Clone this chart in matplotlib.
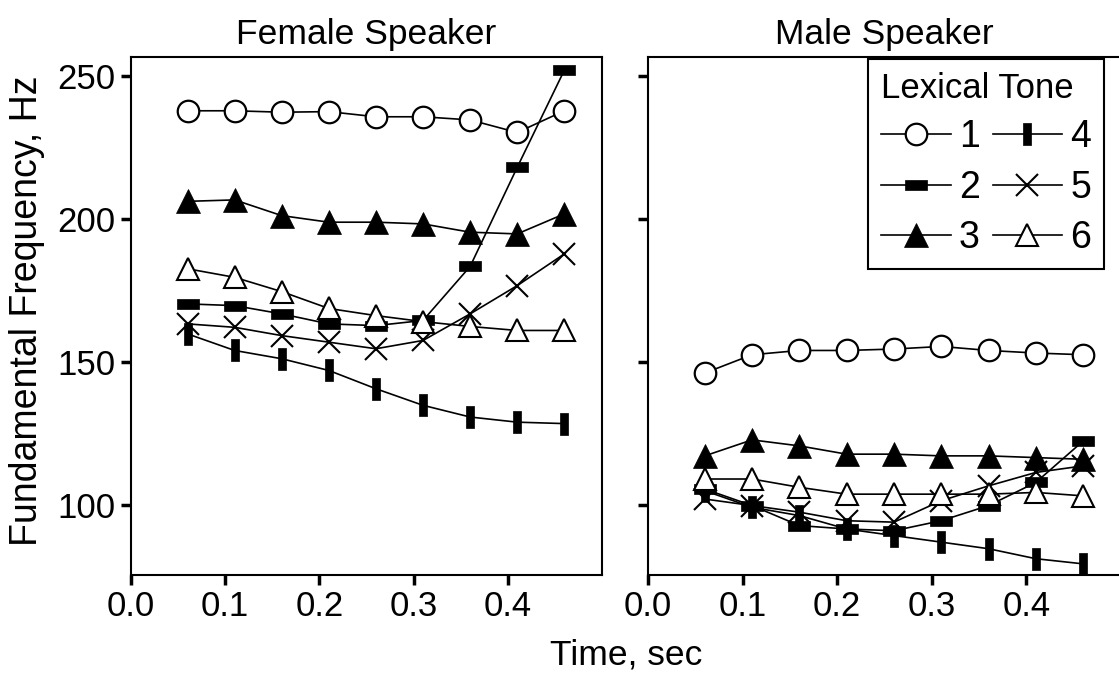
import matplotlib
matplotlib.use("Agg")
import matplotlib.pyplot as plt
from matplotlib.path import Path
from matplotlib.lines import Line2D

plt.rcParams['font.family'] = ['Liberation Sans', 'DejaVu Sans']

# data ---------------------------------------------------------------
time = [0.06, 0.11, 0.16, 0.21, 0.26, 0.31, 0.36, 0.41, 0.46]
tones = ["1", "2", "3", "4", "5", "6"]

female_t1 = [238.0, 238.0, 237.5, 237.7, 235.9, 235.9, 234.8, 230.4, 238.0]
female_t2 = [170.4, 169.8, 166.9, 163.4, 162.8, 164.6, 183.5, 218.2, 252.2]
female_t3 = [206.3, 206.8, 201.3, 199.0, 199.0, 198.4, 195.5, 194.9, 201.9]
female_t4 = [159.9, 154.1, 151.2, 147.1, 140.7, 134.9, 130.8, 129.0, 128.5]
female_t5 = [163.4, 162.2, 159.3, 157.0, 154.7, 157.6, 166.9, 176.8, 187.9]
female_t6 = [182.7, 179.7, 174.7, 168.8, 166.3, 164.2, 162.5, 161.1, 161.1]

male_t1 = [146.2, 152.6, 154.1, 154.1, 154.6, 155.5, 154.1, 153.2, 152.6]
male_t2 = [105.6, 99.8, 92.8, 91.6, 91.0, 94.5, 99.8, 107.9, 122.4]
male_t3 = [117.2, 122.8, 120.7, 117.8, 117.8, 117.2, 117.2, 116.6, 116.0]
male_t4 = [105.0, 99.2, 96.3, 91.6, 89.3, 87.0, 84.7, 81.2, 79.4]
male_t5 = [102.1, 99.8, 97.5, 94.5, 94.0, 101.5, 106.7, 111.4, 113.7]
male_t6 = [109.1, 109.1, 106.2, 103.8, 103.8, 103.8, 103.8, 104.4, 103.2]

yticks = [100, 150, 200, 250]
xticks = [0.0, 0.1, 0.2, 0.3, 0.4]

# marker styles --------------------------------------------------------
hbar = Path([(-1, -0.42), (1, -0.42), (1, 0.42), (-1, 0.42), (-1, -0.42)],
            [1, 2, 2, 2, 79])
vbar = Path([(-0.36, -1), (0.36, -1), (0.36, 1), (-0.36, 1), (-0.36, -1)],
            [1, 2, 2, 2, 79])
styles = [
    dict(marker='o', ms=15.5, mfc='white', mec='black', mew=1.6),
    dict(marker=hbar, ms=16, mfc='black', mec='black', mew=0.5),
    dict(marker='^', ms=17, mfc='black', mec='black', mew=0.5),
    dict(marker=vbar, ms=16, mfc='black', mec='black', mew=0.5),
    dict(marker='x', ms=16, mec='black', mew=1.5),
    dict(marker='^', ms=16, mfc='white', mec='black', mew=1.5),
]

W, H = 1119, 677
fig = plt.figure(figsize=(W / 100, H / 100), dpi=100)
ax1 = fig.add_axes([131 / W, 1 - 575 / H, 471 / W, (575 - 56.5) / H])
ax2 = fig.add_axes([648 / W, 1 - 575 / H, 473 / W, (575 - 56.5) / H])

female = [female_t1, female_t2, female_t3, female_t4, female_t5, female_t6]
male = [male_t1, male_t2, male_t3, male_t4, male_t5, male_t6]

for ax, data, title in [(ax1, female, "Female Speaker"), (ax2, male, "Male Speaker")]:
    for vals, st in zip(data, styles):
        ax.plot(time, vals, color='black', lw=1.2, **st)
    ax.set_xlim(0, 0.5)
    ax.set_ylim(75.5, 257)
    ax.set_xticks(xticks)
    ax.set_xticklabels(["%.1f" % t for t in xticks])
    ax.set_yticks(yticks)
    ax.tick_params(direction='out', length=7, width=2.5, labelsize=25, pad=4)
    for sp in ax.spines.values():
        sp.set_linewidth(1.5)
    ax.set_title(title, fontsize=25.5, pad=9)

ax2.set_yticklabels([])

fig.text(27 / W, 1 - 311 / H, "Fundamental Frequency, Hz", rotation=90,
         ha='center', va='center', fontsize=27)
fig.text(626 / W, 1 - 655 / H, "Time, sec", ha='center', va='center', fontsize=25.5)

handles = [Line2D([], [], color='black', lw=1.2, **st) for st in styles]
leg = fig.legend(handles, tones, ncol=2, title="Lexical Tone", loc='upper left',
                 bbox_to_anchor=(868 / W, 1 - 59 / H), bbox_transform=fig.transFigure,
                 borderaxespad=0, fontsize=27, title_fontsize=25, fancybox=False,
                 framealpha=1, edgecolor='black', handlelength=1.85, handletextpad=0.22,
                 columnspacing=0.35, labelspacing=0.38, borderpad=0.35,
                 alignment='left')
leg.get_frame().set_linewidth(1.5)

fig.savefig("out.png", dpi=100)
